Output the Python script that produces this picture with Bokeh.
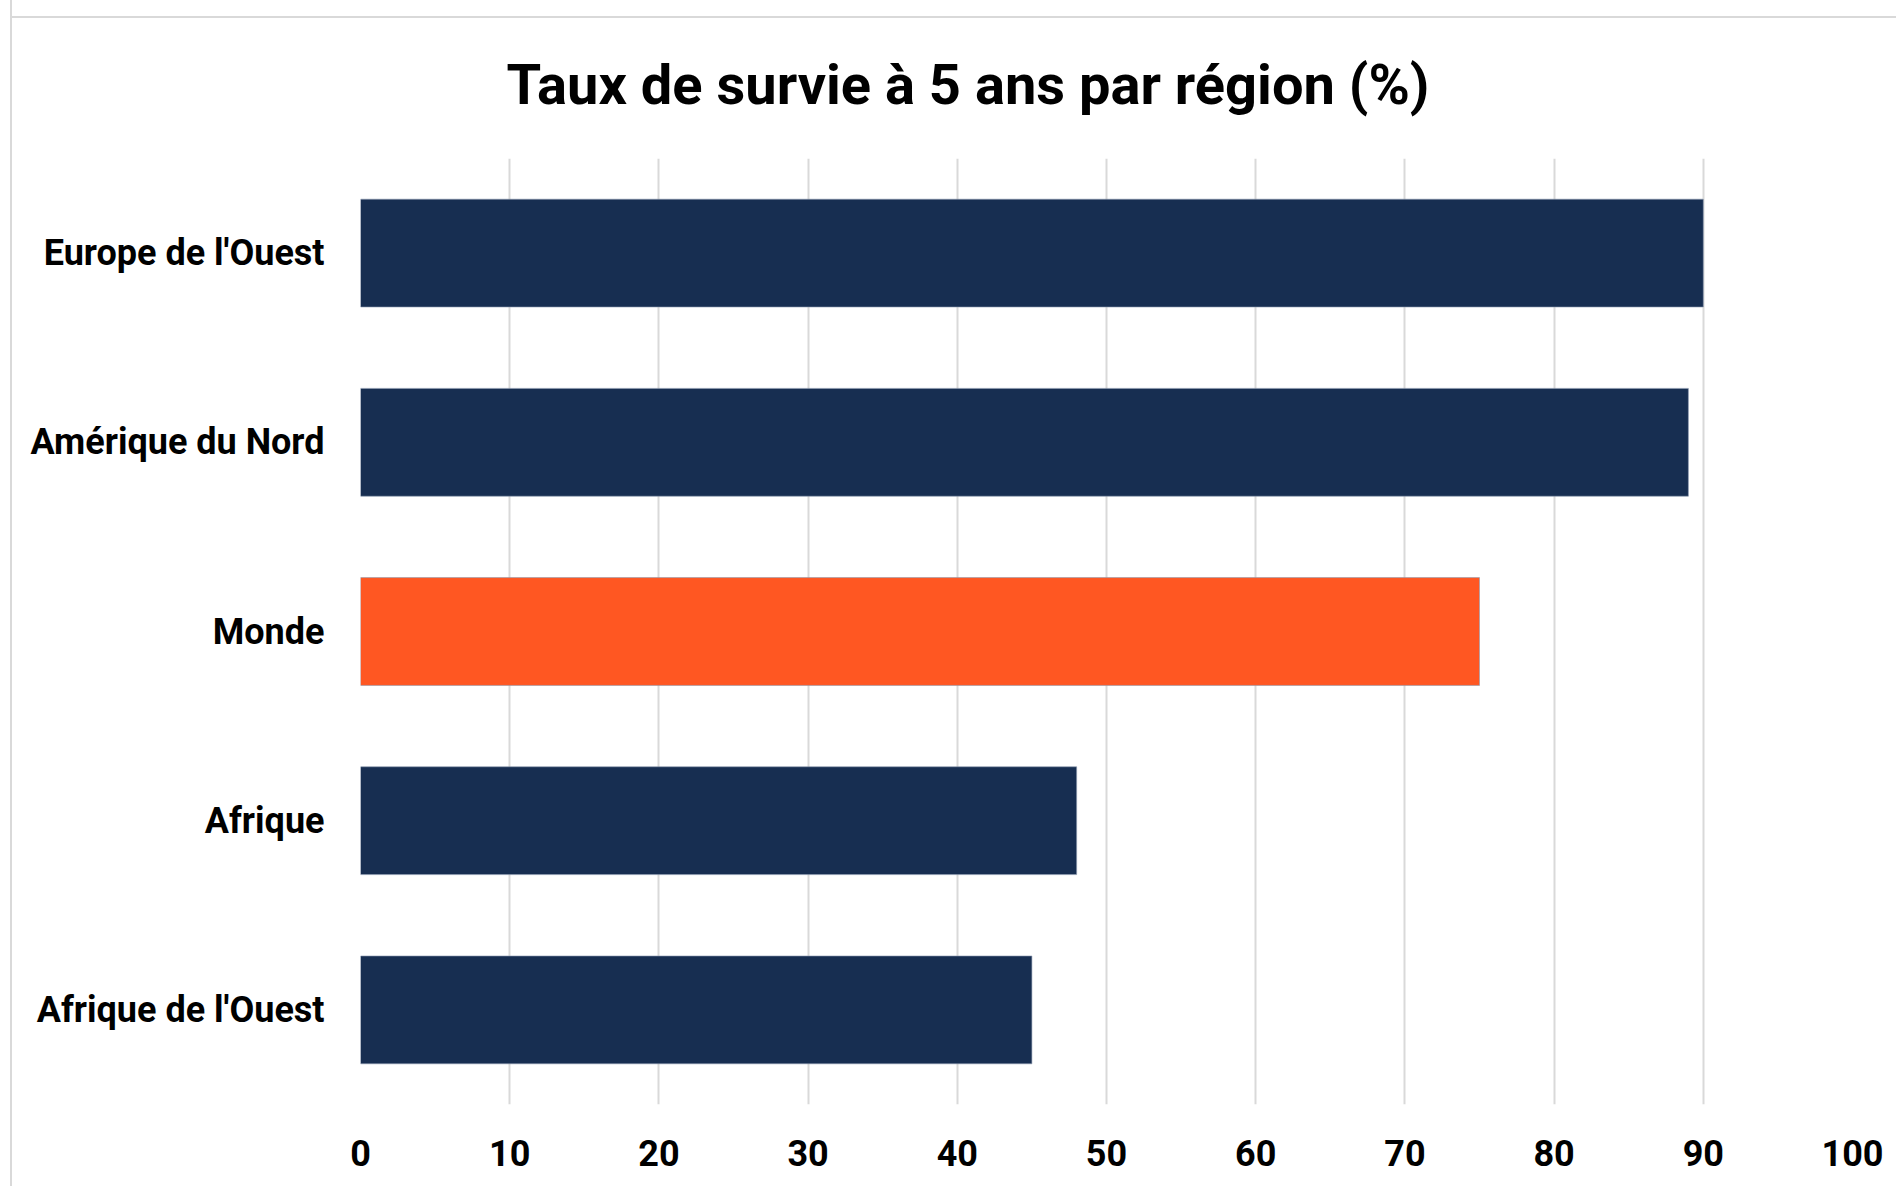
from bokeh.plotting import figure
from bokeh.models import FactorRange, FixedTicker, Title, ColumnDataSource
from bokeh.embed import file_html
from bokeh.resources import INLINE

regions = ["Europe de l'Ouest", "Amérique du Nord", "Monde", "Afrique", "Afrique de l'Ouest"]
survie = [90, 89, 75, 48, 45]
couleurs = ["#172E51", "#172E51", "#FF5722", "#172E51", "#172E51"]
ticks = [0, 10, 20, 30, 40, 50, 60, 70, 80, 90, 100]

FONT = "Roboto"

src = ColumnDataSource(dict(region=regions, val=survie, col=couleurs))

p = figure(
    width=1886, height=1186,
    y_range=FactorRange(factors=list(reversed(regions)), range_padding=0),
    x_range=(0, 100),
    output_backend="svg", toolbar_location=None,
    min_border_left=348, min_border_right=46, min_border_top=158, min_border_bottom=82,
    styles={"border-left": "2px solid #d9d9d9", "margin-left": "10px",
            "background": "linear-gradient(#d9d9d9, #d9d9d9) 0 16px / 100% 2px no-repeat, white"},
)
p.title = Title(text="Taux de survie à  5 ans par région (%)", align="left", offset=146,
                text_font=FONT, text_font_size="56px", text_font_style="bold",
                text_color="#000000", standoff=82)

p.hbar(y="region", right="val", left=0, height=0.57, source=src,
       fill_color="col", line_color="#8e9bb0", line_width=1, line_alpha=0.6)

p.xaxis.ticker = FixedTicker(ticks=ticks)
for ax in (p.xaxis[0], p.yaxis[0]):
    ax.axis_line_color = None
    ax.major_tick_line_color = None
    ax.minor_tick_line_color = None
    ax.major_label_text_font = FONT
    ax.major_label_text_font_size = "36px"
    ax.major_label_text_font_style = "bold"
    ax.major_label_text_color = "#000000"
p.yaxis.major_label_standoff = 30
p.xaxis.major_label_standoff = 29

p.xgrid.grid_line_color = "#d9d9d9"
p.xgrid.grid_line_width = 2
p.ygrid.grid_line_color = None
p.outline_line_color = None
p.background_fill_color = "white"
p.border_fill_color = None

open("out.html", "w").write(file_html(p, INLINE))
